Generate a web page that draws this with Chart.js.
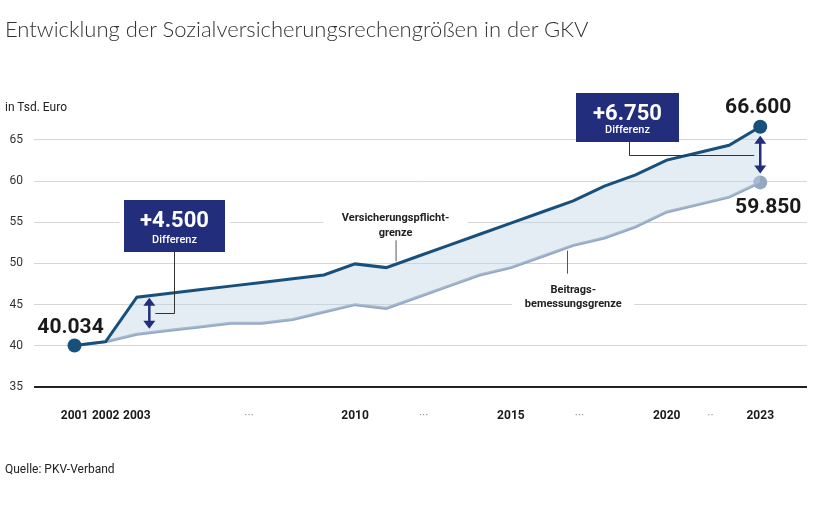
<!DOCTYPE html>
<html lang="de">
<head>
<meta charset="utf-8">
<script src="https://cdn.jsdelivr.net/npm/chart.js@4.4.1/dist/chart.umd.min.js"></script>
<style>
  html, body { margin: 0; padding: 0; background: #fff; }
  #wrap { position: relative; width: 823px; height: 514px; font-family: Roboto, "Open Sans", sans-serif; color: #222; }
  #box { position: absolute; left: 0; top: 0; width: 823px; height: 514px; }
  .title { position: absolute; left: 5px; top: 15px; font: 300 22px Lato, "Open Sans", sans-serif; color: #333; white-space: nowrap; }
  .unit { position: absolute; left: 5px; top: 100px; font-size: 12px; color: #222; }
  .src { position: absolute; left: 5px; top: 462px; font-size: 12px; color: #222; }
</style>
</head>
<body>
<div id="wrap">
  <div id="box"><canvas id="chart"></canvas></div>
  <div class="title">Entwicklung der Sozialversicherungsrechengrößen in der GKV</div>
  <div class="unit">in Tsd. Euro</div>
  <div class="src">Quelle: PKV-Verband</div>
</div>
<script>
/* ==== data ========================================================= */
const years = [2001, 2002, 2003, 2004, 2005, 2006, 2007, 2008, 2009, 2010, 2011, 2012,
  2013, 2014, 2015, 2016, 2017, 2018, 2019, 2020, 2021, 2022, 2023];
// Versicherungspflichtgrenze (Tsd. Euro)
const pflichtgrenze = [40.034, 40.5, 45.9, 46.35, 46.8, 47.25, 47.7, 48.15, 48.6, 49.95, 49.5, 50.85,
  52.2, 53.55, 54.9, 56.25, 57.6, 59.4, 60.75, 62.55, 63.45, 64.35, 66.6];
// Beitragsbemessungsgrenze (Tsd. Euro)
const bemessungsgrenze = [40.034, 40.5, 41.4, 41.85, 42.3, 42.75, 42.75, 43.2, 44.1, 45.0, 44.55, 45.9,
  47.25, 48.6, 49.5, 50.85, 52.2, 53.1, 54.45, 56.25, 57.15, 58.05, 59.85];

const yTicks = [35, 40, 45, 50, 55, 60, 65];
const tickYears = [2001, 2002, 2003, 2006.6, 2010, 2012.2, 2015, 2017.2, 2020, 2021.4, 2023];
const tickLabels = ['2001', '2002', '2003', '···', '2010', '···', '2015', '···', '2020', '··', '2023'];

const dark = '#17507c', light = '#94a8c2', navy = '#222e7c';
const FONT = 'Roboto, "Open Sans", sans-serif';

/* ==== helpers ====================================================== */
const interp = (arr, yr) => {
  const i = Math.floor(yr - years[0]), f = yr - years[0] - i;
  return arr[i] + (arr[i + 1] - arr[i]) * f;
};
const last = years.length - 1;
const isDots = c => (tickLabels[c.index] || '').startsWith('·');

const arrow = (ctx, x, y1, y2) => {
  ctx.strokeStyle = navy; ctx.fillStyle = navy; ctx.lineWidth = 2.5;
  ctx.beginPath(); ctx.moveTo(x, y1 + 6); ctx.lineTo(x, y2 - 6); ctx.stroke();
  [[y1, 1], [y2, -1]].forEach(([yy, d]) => {
    ctx.beginPath(); ctx.moveTo(x, yy); ctx.lineTo(x - 6, yy + 8 * d); ctx.lineTo(x + 6, yy + 8 * d); ctx.closePath(); ctx.fill();
  });
};

const diffBox = (ctx, l, t, w, h, big) => {
  ctx.fillStyle = navy; ctx.fillRect(l, t, w, h);
  ctx.fillStyle = '#fff'; ctx.textAlign = 'center'; ctx.textBaseline = 'alphabetic';
  ctx.font = `bold 22px ${FONT}`; ctx.fillText(big, l + w / 2, t + 27);
  ctx.font = `500 11px ${FONT}`; ctx.fillText('Differenz', l + w / 2, t + h - 9);
};

/* ==== annotations ================================================== */
const notes = {
  id: 'notes',
  afterDatasetsDraw(chart) {
    const { ctx, scales: { x, y } } = chart;
    ctx.save();

    // line labels, white backing only over the grid line
    const l1x = x.getPixelForValue(2011.3), l1y = y.getPixelForValue(55);
    ctx.fillStyle = '#fff'; ctx.fillRect(l1x - 72, l1y - 6, 144, 10);
    const l2x = x.getPixelForValue(2017.0), l2y = y.getPixelForValue(45);
    ctx.fillRect(l2x - 61, l2y - 5, 122, 10);
    ctx.fillStyle = '#222'; ctx.textAlign = 'center'; ctx.textBaseline = 'middle';
    ctx.font = `bold 11px ${FONT}`;
    ctx.fillText('Versicherungspflicht-', l1x, l1y - 4);
    ctx.fillText('grenze', l1x, l1y + 11);
    ctx.fillText('Beitrags-', l2x, l2y - 14);
    ctx.fillText('bemessungsgrenze', l2x, l2y);
    ctx.strokeStyle = '#555'; ctx.lineWidth = 1;
    ctx.beginPath();
    ctx.moveTo(l1x + 0.5, l1y + 18); ctx.lineTo(l1x + 0.5, y.getPixelForValue(interp(pflichtgrenze, 2011.3)) - 3);
    const lx2 = Math.round(l2x - 6) + 0.5;
    ctx.moveTo(lx2, y.getPixelForValue(interp(bemessungsgrenze, 2016.8)) + 3); ctx.lineTo(lx2, l2y - 31);
    ctx.stroke();

    // first difference
    const ax = x.getPixelForValue(2003.4);
    const a1 = y.getPixelForValue(interp(pflichtgrenze, 2003.4)) + 2;
    const a2 = y.getPixelForValue(interp(bemessungsgrenze, 2003.4)) - 4;
    const b1t = Math.round(y.getPixelForValue(55) - 22);
    const cx1 = Math.round(ax + 25) + 0.5, cy1 = Math.round((a1 + a2) / 2) + 0.5;
    ctx.fillStyle = '#fff'; ctx.fillRect(ax - 30, b1t - 4, 111, 60);
    ctx.strokeStyle = '#333'; ctx.lineWidth = 1;
    ctx.beginPath(); ctx.moveTo(cx1, b1t + 52); ctx.lineTo(cx1, cy1); ctx.lineTo(ax + 6, cy1); ctx.stroke();
    diffBox(ctx, Math.round(ax - 25), b1t, 101, 52, '+4.500');
    arrow(ctx, ax, a1, a2);

    // second difference
    const ex = x.getPixelForValue(2023);
    const e1 = y.getPixelForValue(pflichtgrenze[last]), e2 = y.getPixelForValue(bemessungsgrenze[last]);
    const b2t = Math.round(y.getPixelForValue(65) - 47);
    const cx2 = Math.round(ex - 131) + 0.5;
    ctx.strokeStyle = '#333'; ctx.lineWidth = 1;
    ctx.beginPath(); ctx.moveTo(cx2, b2t + 49); ctx.lineTo(cx2, b2t + 62.5); ctx.lineTo(ex - 6, b2t + 62.5); ctx.stroke();
    diffBox(ctx, Math.round(ex - 184), b2t, 103, 49, '+6.750');
    arrow(ctx, ex, e1 + 9, e2 - 9);

    // value labels
    ctx.fillStyle = '#1a1a1a'; ctx.textAlign = 'center'; ctx.textBaseline = 'alphabetic';
    ctx.font = `bold 21px ${FONT}`;
    ctx.fillText('66.600', ex - 2, e1 - 14);
    ctx.fillText('59.850', ex + 8, e2 + 31);
    ctx.fillText('40.034', x.getPixelForValue(2001) - 4, y.getPixelForValue(pflichtgrenze[0]) - 13);
    ctx.restore();
  }
};

/* ==== chart ======================================================== */
new Chart(document.getElementById('chart'), {
  type: 'line',
  data: {
    datasets: [
      {
        label: 'Versicherungspflichtgrenze',
        data: years.map((yr, i) => ({ x: yr, y: pflichtgrenze[i] })),
        borderColor: dark, borderWidth: 3, clip: false,
        pointRadius: pflichtgrenze.map((_, i) => (i === 0 || i === last) ? 7 : 0),
        pointBackgroundColor: dark, pointBorderWidth: 0,
        fill: '+1', backgroundColor: 'rgba(190, 210, 228, 0.42)'
      },
      {
        label: 'Beitragsbemessungsgrenze',
        data: years.map((yr, i) => ({ x: yr, y: bemessungsgrenze[i] })),
        borderColor: light, borderWidth: 3, clip: false,
        pointRadius: bemessungsgrenze.map((_, i) => i === last ? 7 : 0),
        pointBackgroundColor: light, pointBorderWidth: 0,
        fill: false
      }
    ]
  },
  options: {
    responsive: true, maintainAspectRatio: false, animation: false,
    layout: { padding: { top: 123.5, right: 16, bottom: 87, left: 0 } },
    plugins: { legend: { display: false }, tooltip: { enabled: false } },
    elements: { line: { tension: 0 } },
    scales: {
      x: {
        type: 'linear', min: 1999.7, max: 2024.5,
        border: { display: false }, grid: { display: false },
        afterBuildTicks: s => { s.ticks = tickYears.map(v => ({ value: v })); },
        afterFit: s => { s.height = 40; },
        ticks: {
          autoSkip: false, maxRotation: 0, padding: 14,
          callback: (v, i) => tickLabels[i],
          color: c => isDots(c) ? '#999' : '#1a1a1a',
          font: c => ({ family: FONT, size: 12, weight: isDots(c) ? 'normal' : 'bold' })
        }
      },
      y: {
        min: 35, max: 67,
        border: { display: false },
        afterBuildTicks: s => { s.ticks = yTicks.map(v => ({ value: v })); },
        afterFit: s => { s.width = 34; },
        grid: {
          drawTicks: false,
          color: c => c.tick && c.tick.value === 35 ? '#222' : '#d6d6d6',
          lineWidth: c => c.tick && c.tick.value === 35 ? 2 : 1
        },
        ticks: { padding: 11, color: '#333', font: { family: FONT, size: 12 } }
      }
    }
  },
  plugins: [notes]
});
</script>
</body>
</html>
